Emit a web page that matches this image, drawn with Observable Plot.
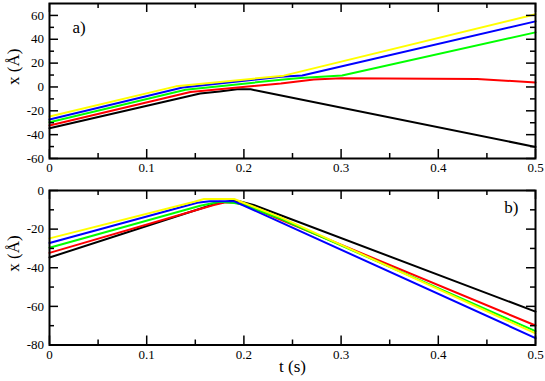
<!DOCTYPE html>
<html>
<head>
<meta charset="utf-8">
<script src="https://cdn.jsdelivr.net/npm/d3@7"></script>
<script src="https://cdn.jsdelivr.net/npm/@observablehq/plot@0.6"></script>
<style>
  html, body { margin: 0; padding: 0; background: #fff; }
  svg { display: block; }
</style>
</head>
<body>
<script>
// ---- series ----
const seriesNames = ["s1", "s2", "s3", "s4", "s5"];
const seriesColors = ["#000000", "#ff0000", "#00ff00", "#0000ff", "#ffff00"];

// ---- panel a) ----
const aBlackT = [0, 0.155, 0.175, 0.193, 0.207, 0.218, 0.5];
const aBlackX = [-34.7, -5.5, -3.8, -2.0, -2.0, -3.8, -50.3];
const aRedT = [0, 0.145, 0.238, 0.272, 0.3, 0.44, 0.5];
const aRedX = [-32.3, -4.3, 3.0, 6.3, 7.3, 6.7, 3.7];
const aGreenT = [0, 0.14, 0.238, 0.258, 0.301, 0.5];
const aGreenX = [-29.6, -2.3, 6.0, 7.5, 9.6, 45.8];
const aBlueT = [0, 0.137, 0.238, 0.26, 0.5];
const aBlueX = [-27.3, -0.5, 8.5, 9.6, 55];
const aYellowT = [0, 0.13, 0.241, 0.5];
const aYellowX = [-24.8, 0.5, 9.5, 61];

// ---- panel b) ----
const bBlackT = [0, 0.17, 0.185, 0.195, 0.21, 0.5];
const bBlackX = [-34.7, -7, -5.5, -5.5, -7.5, -62.7];
const bRedT = [0, 0.169, 0.18, 0.19, 0.2, 0.5];
const bRedX = [-32.3, -7.5, -6.2, -6.2, -7.2, -69.9];
const bGreenT = [0, 0.155, 0.175, 0.19, 0.2, 0.238, 0.5];
const bGreenX = [-29.6, -7.9, -5.8, -6.5, -7.4, -14.7, -72.8];
const bBlueT = [0, 0.152, 0.165, 0.19, 0.238, 0.5];
const bBlueX = [-27.2, -6.3, -5.6, -5.6, -16.5, -76.4];
const bYellowT = [0, 0.149, 0.159, 0.19, 0.197, 0.238, 0.5];
const bYellowX = [-24.8, -5.8, -4.4, -4.4, -5.8, -13.9, -74];

// ---- ticks ----
const xMajor = [0, 0.1, 0.2, 0.3, 0.4, 0.5];
const xMinor = [0.05, 0.15, 0.25, 0.35, 0.45];
const aYMajor = [-60, -40, -20, 0, 20, 40, 60];
const aYMinor = [-50, -30, -10, 10, 30, 50];
const bYMajor = [-80, -60, -40, -20, 0];
const bYMinor = [-70, -50, -30, -10];

const xLabel = "t (s)";
const yLabel = "x (Å)";
const panelLabels = ["a)", "b)"];

function rows(tArrs, xArrs) {
  const out = [];
  seriesNames.forEach((s, k) => {
    tArrs[k].forEach((t, i) => out.push({t, x: xArrs[k][i], series: s}));
  });
  return out;
}
const dataA = rows([aBlackT, aRedT, aGreenT, aBlueT, aYellowT], [aBlackX, aRedX, aGreenX, aBlueX, aYellowX]);
const dataB = rows([bBlackT, bRedT, bGreenT, bBlueT, bYellowT], [bBlackX, bRedX, bGreenX, bBlueX, bYellowX]);

const font = "Liberation Serif";
const W = 545, ML = 49, MR = 10;
const MAJ = 9, MIN = 5;

function tickMarks(yMajor, yMinor, FH) {
  const FW = W - ML - MR;
  const o = {stroke: "black", strokeWidth: 1.5};
  return [
    Plot.tickX(xMajor, {...o, x: d => d, insetTop: FH - MAJ}),
    Plot.tickX(xMinor, {...o, x: d => d, insetTop: FH - MIN}),
    Plot.tickX(xMajor, {...o, x: d => d, insetBottom: FH - MAJ}),
    Plot.tickX(xMinor, {...o, x: d => d, insetBottom: FH - MIN}),
    Plot.tickY(yMajor, {...o, y: d => d, insetRight: FW - MAJ}),
    Plot.tickY(yMinor, {...o, y: d => d, insetRight: FW - MIN}),
    Plot.tickY(yMajor, {...o, y: d => d, insetLeft: FW - MAJ}),
    Plot.tickY(yMinor, {...o, y: d => d, insetLeft: FW - MIN})
  ];
}

function panel({data, yDomain, yMajor, yMinor, height, marginTop, marginBottom, label, labelOpts, extra}) {
  const FH = height - marginTop - marginBottom;
  return Plot.plot({
    width: W,
    height,
    marginLeft: ML,
    marginRight: MR,
    marginTop,
    marginBottom,
    style: {fontFamily: font, fontSize: "13px"},
    x: {domain: [0, 0.5]},
    y: {domain: yDomain},
    color: {domain: seriesNames, range: seriesColors},
    marks: [
      Plot.line(data, {x: "t", y: "x", z: "series", stroke: "series", strokeWidth: 2}),
      ...tickMarks(yMajor, yMinor, FH),
      Plot.frame({stroke: "black", strokeWidth: 2}),
      Plot.axisX({anchor: "bottom", ticks: xMajor, tickSize: 0, tickPadding: 4.5, tickFormat: d => `${d}`, label: null}),
      Plot.axisY({anchor: "left", ticks: yMajor, tickSize: 0, tickPadding: 5.5, tickFormat: d => `${d}`, label: null}),
      Plot.text([yLabel], {text: d => d, frameAnchor: "left", rotate: -90, dx: -36, dy: 4, fontSize: 17}),
      Plot.text([label], {text: d => d, fontSize: 17, ...labelOpts}),
      ...(extra || [])
    ]
  });
}

const topPlot = panel({
  data: dataA, yDomain: [-60, 70], yMajor: aYMajor, yMinor: aYMinor,
  height: 178, marginTop: 3, marginBottom: 20,
  label: panelLabels[0],
  labelOpts: {frameAnchor: "top-left", textAnchor: "start", lineAnchor: "top", dx: 23, dy: 17}
});
const botPlot = panel({
  data: dataB, yDomain: [-80, 0], yMajor: bYMajor, yMinor: bYMinor,
  height: 203, marginTop: 12, marginBottom: 36.5,
  label: panelLabels[1],
  labelOpts: {frameAnchor: "top-right", textAnchor: "end", lineAnchor: "top", dx: -17, dy: 10},
  extra: [Plot.text([xLabel], {text: d => d, frameAnchor: "bottom", dy: 27, fontSize: 17})]
});
document.body.appendChild(topPlot);
document.body.appendChild(botPlot);
</script>
</body>
</html>
